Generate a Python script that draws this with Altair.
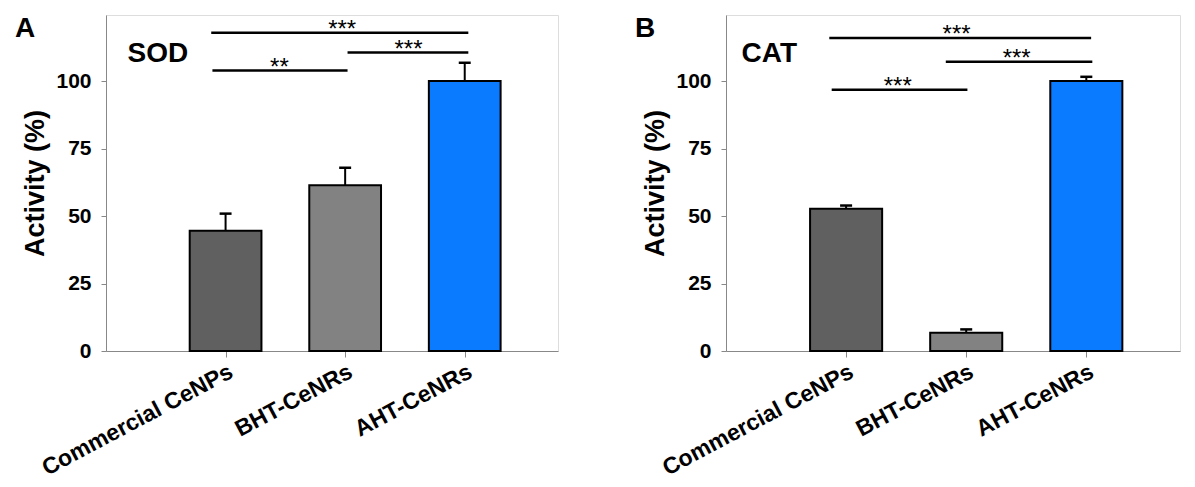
import json
import altair as alt
import pandas as pd

# ---------------- data ----------------
categories = ["Commercial CeNPs", "BHT-CeNRs", "AHT-CeNRs"]
positions = [1, 2, 3]
bar_colors = ["#606060", "#828282", "#0A7BFF"]

sod_values = [44.6, 61.4, 100.0]
sod_errors = [6.3, 6.5, 6.8]
cat_values = [52.7, 6.8, 100.0]
cat_errors = [1.2, 1.2, 1.6]

# significance brackets (start, end in category units; height in %)
sod_br_start = [0.88, 2.02, 0.89]
sod_br_end = [3.03, 3.03, 2.02]
sod_br_y = [117.9, 110.6, 103.9]
sod_br_text = ["***", "***", "**"]
sod_br_text_x = [1.975, 2.53, 1.45]

cat_br_start = [0.86, 1.83, 0.88]
cat_br_end = [3.04, 3.05, 2.01]
cat_br_y = [116.0, 107.2, 96.8]
cat_br_text = ["***", "***", "***"]
cat_br_text_x = [1.92, 2.42, 1.43]

y_ticks = [0, 25, 50, 75, 100]
X_DOMAIN = [0, 3.78]
Y_DOMAIN = [0, 124.5]
FONT = "Liberation Sans"


def make_panel(letter, enzyme, enzyme_x, values, errors, br_start, br_end, br_y,
               br_text, br_text_x, width):
    df = pd.DataFrame({"pos": positions, "category": categories, "value": values,
                       "error": errors, "color": bar_colors})
    xs = alt.Scale(domain=X_DOMAIN, nice=False, zero=False)
    ys = alt.Scale(domain=Y_DOMAIN, nice=False, zero=True)
    label_expr = f"{json.dumps(categories)}[datum.value - 1]"
    x_axis = alt.Axis(values=positions, labelExpr=label_expr, title=None,
                      labelAngle=-28, labelAlign="right", labelBaseline="top",
                      labelFontSize=23, labelFontWeight="bold", tickSize=6,
                      labelPadding=3, labelLimit=0, labelOverlap=False,
                      labelBound=False, grid=False)
    y_axis = alt.Axis(values=y_ticks, title="Activity (%)", titleFontSize=27,
                      titleFontWeight="bold", titlePadding=6, labelFontSize=21,
                      labelFontWeight="bold", tickSize=5, labelPadding=10, grid=False)

    def X(f):
        return alt.X(f, type="quantitative", scale=xs, axis=x_axis)

    def Y(f):
        return alt.Y(f, type="quantitative", scale=ys, axis=y_axis)

    base = alt.Chart(df)
    err = base.transform_calculate(top="datum.value + datum.error").mark_rule(
        color="black", strokeWidth=2).encode(x=X("pos"), y=Y("value"), y2="top:Q")
    caps = base.transform_calculate(
        top="datum.value + datum.error", lo="datum.pos - 0.05", hi="datum.pos + 0.05"
    ).mark_rule(color="black", strokeWidth=2.5).encode(x=X("lo"), x2="hi:Q", y=Y("top"))
    bars = base.transform_calculate(
        lo="datum.pos - 0.3", hi="datum.pos + 0.3", zero="0"
    ).mark_rect(stroke="black", strokeWidth=2).encode(
        x=X("lo"), x2="hi:Q", y=Y("value"), y2="zero:Q",
        color=alt.Color("color:N", scale=None))

    br_df = pd.DataFrame({"start": br_start, "end": br_end, "y": br_y,
                          "label": br_text, "tx": br_text_x})
    br = alt.Chart(br_df)
    lines = br.mark_rule(color="black", strokeWidth=2.5).encode(
        x=X("start"), x2="end:Q", y=Y("y"))
    stars = br.mark_text(font=FONT, fontSize=24, align="center", baseline="alphabetic",
                         dy=4, color="black").encode(x=X("tx"), y=Y("y"), text="label:N")

    name_df = pd.DataFrame({"name": [enzyme], "x": [enzyme_x], "y": [107.0]})
    name = alt.Chart(name_df).mark_text(font=FONT, fontSize=28, fontWeight="bold",
                                        align="left", baseline="alphabetic",
                                        color="black").encode(
        x=X("x"), y=Y("y"), text="name:N")

    letter_df = pd.DataFrame({"letter": [letter]})
    let = alt.Chart(letter_df).mark_text(font=FONT, fontSize=28, fontWeight="bold",
                                         align="left", baseline="alphabetic",
                                         color="black").encode(
        x=alt.value(-91), y=alt.value(22), text="letter:N")

    return alt.layer(err, bars, caps, lines, stars, name, let).properties(
        width=width, height=336)


panel_a = make_panel("A", "SOD", 0.18, sod_values, sod_errors, sod_br_start, sod_br_end,
                     sod_br_y, sod_br_text, sod_br_text_x, 452)
panel_b = make_panel("B", "CAT", 0.13, cat_values, cat_errors, cat_br_start, cat_br_end,
                     cat_br_y, cat_br_text, cat_br_text_x, 454)

chart = alt.hconcat(panel_a, panel_b, spacing=75).properties(
    padding={"left": 6, "top": 6, "right": 5, "bottom": 5}
).configure_view(stroke="black", strokeWidth=2).configure_axis(
    labelFont=FONT, titleFont=FONT, labelColor="black", titleColor="black",
    domainColor="black", domainWidth=2, tickColor="black", tickWidth=2
).configure(background="white")

chart.save("out.html", embed_options={"renderer": "svg", "actions": False})
